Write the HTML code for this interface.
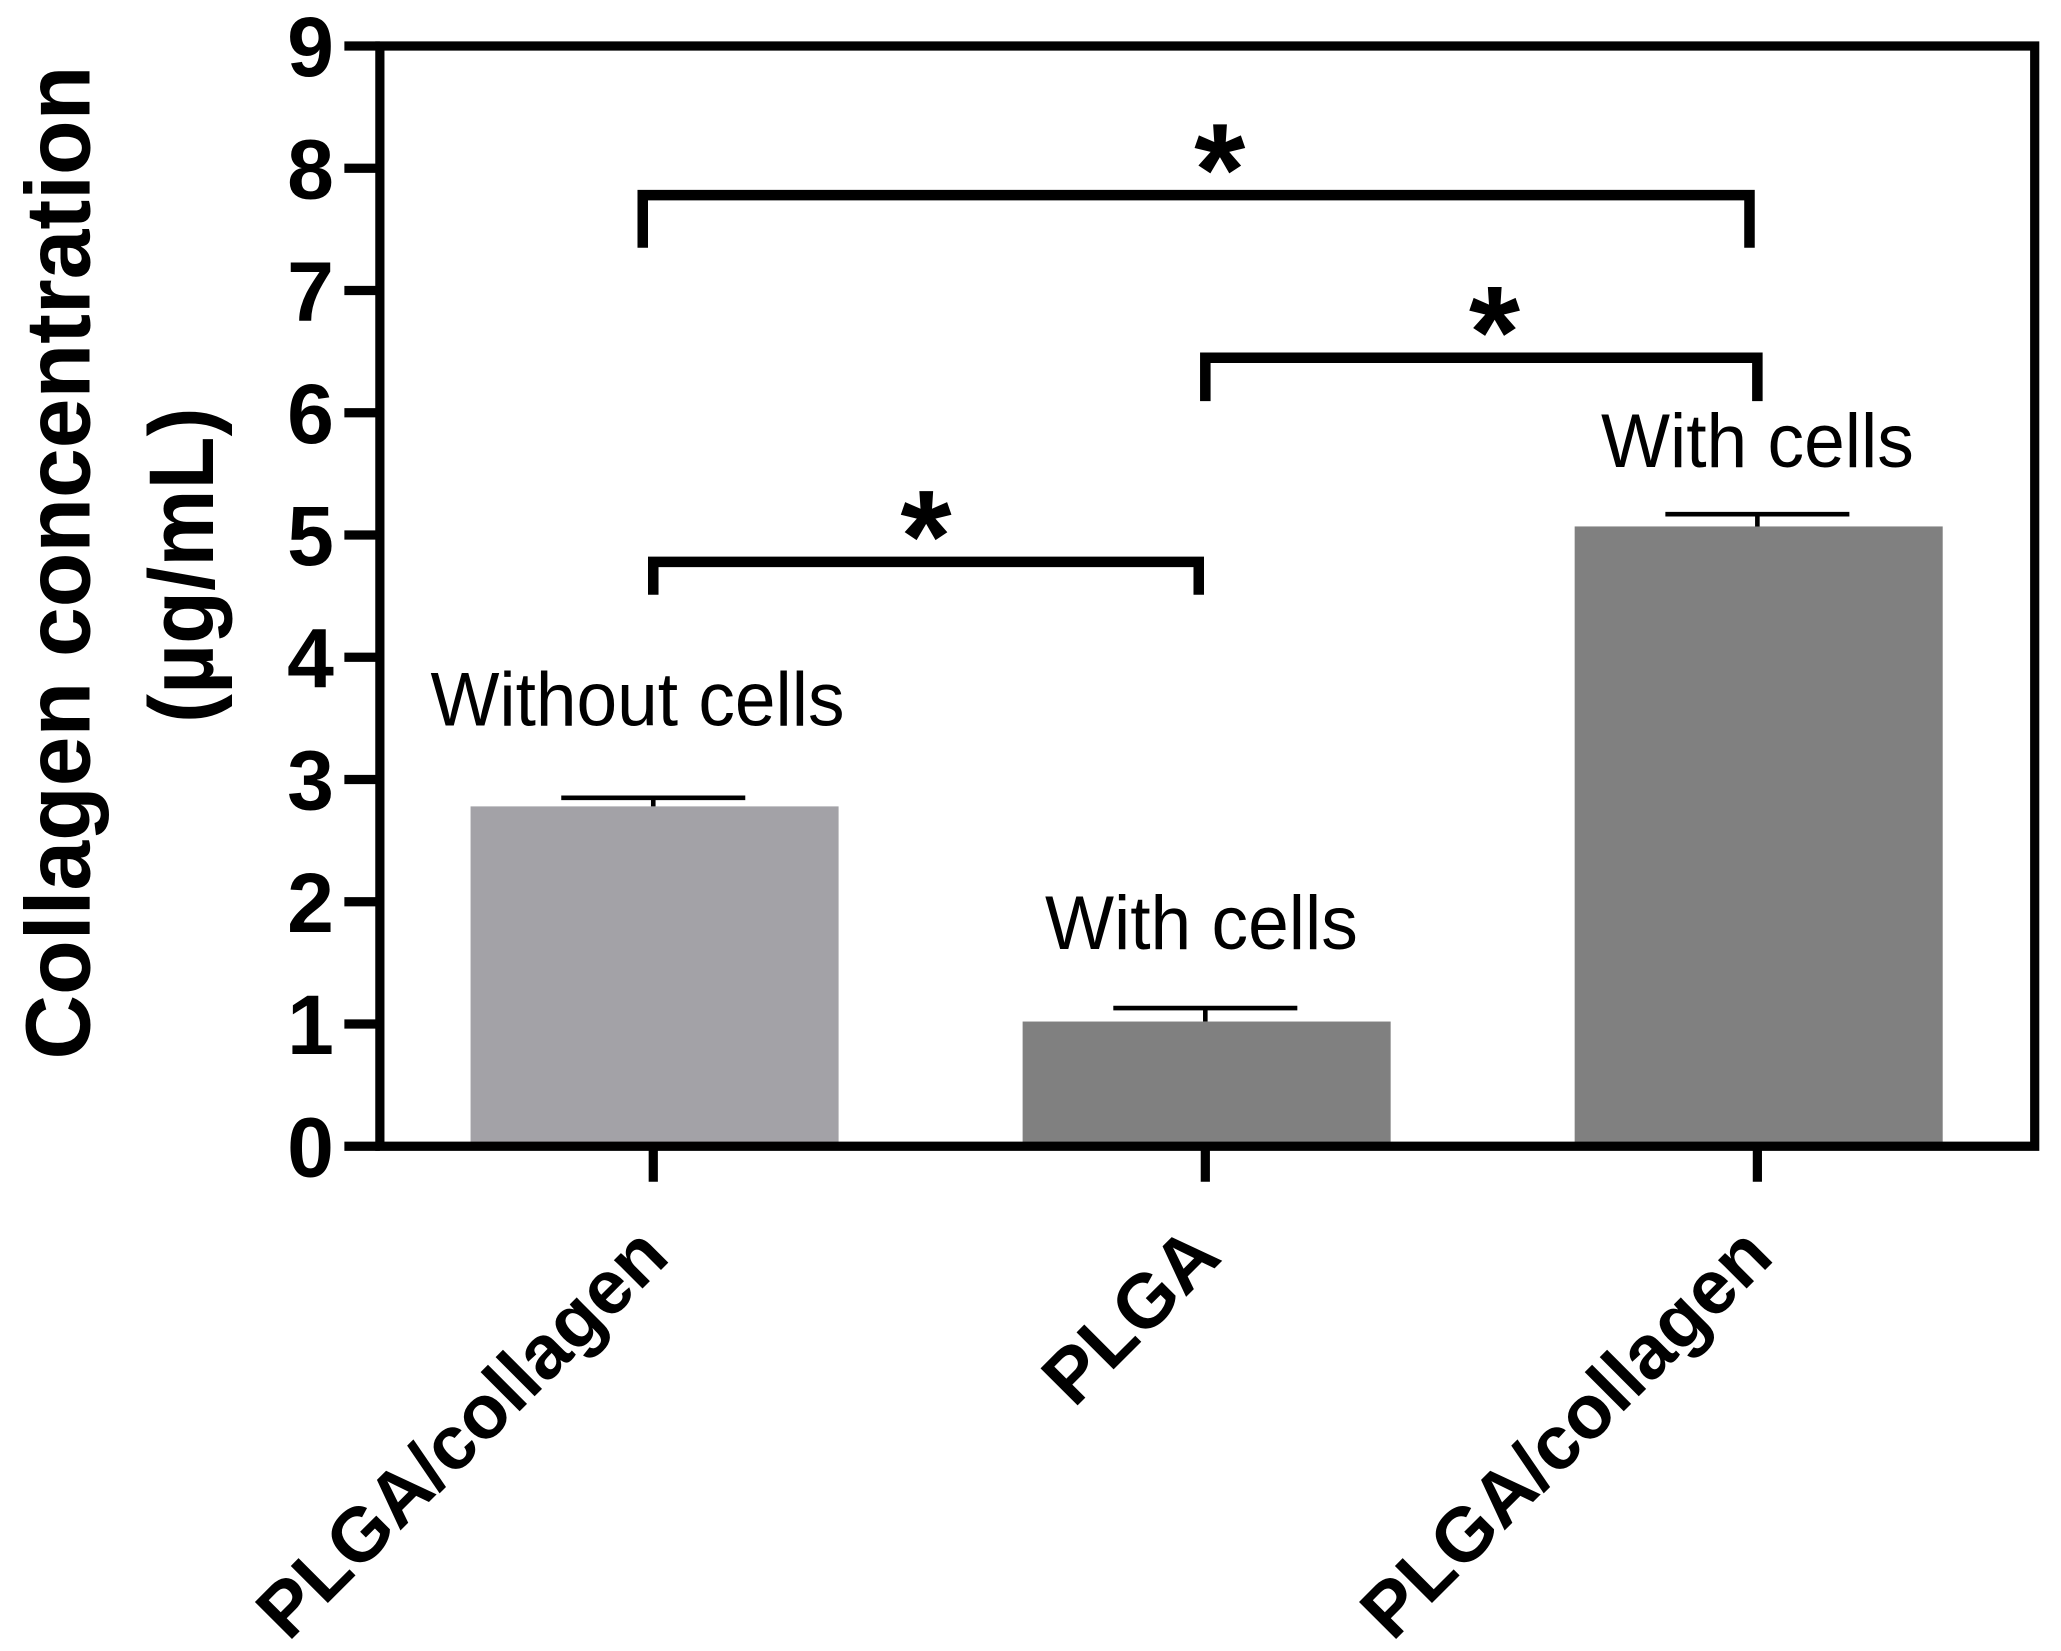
<!DOCTYPE html>
<html><head><meta charset="utf-8"><style>
html,body{margin:0;padding:0;background:#fff;}
svg{display:block;}
text{font-family:"Liberation Sans",Arial,sans-serif;}
</style></head><body>
<svg id="chart" width="2061" height="1651" viewBox="0 0 1568 1256" preserveAspectRatio="none" xmlns="http://www.w3.org/2000/svg">
<g id="g"></g>
</svg>
<script>
const categories = ["PLGA/collagen", "PLGA", "PLGA/collagen"];
const conditions = ["Without cells", "With cells", "With cells"];
const values = [2.78, 1.02, 5.07];
const errors = [0.07, 0.11, 0.10];
const yTicks = [0,1,2,3,4,5,6,7,8,9];
const sigPairs = [[0,1],[1,2],[0,2]];
const sigHeights = [4.78, 6.45, 7.78];

const NS = "http://www.w3.org/2000/svg";
const g = document.getElementById('g');
const X0 = 289, X1 = 1548, Y0 = 872, YT = 35, YMAX = 9;
function y(v){ return Y0 - (Y0 - YT) * v / YMAX; }
function xc(i){ return 497 + i * 420; }
const BW = 280;
function mk(tag, attrs, parent){
  const e = document.createElementNS(NS, tag);
  for (const k in attrs) e.setAttribute(k, attrs[k]);
  (parent || g).appendChild(e);
  return e;
}
const colors = ["#a3a2a7", "#808080", "#808080"];
const labelStyle = [{dx:-12, gap:55, len:315}, {dx:-3, gap:45, len:238}, {dx:0, gap:36, len:238}];
const starDx = [0, 10, 18];

values.forEach((v, i) => {
  const r = mk('rect', {x: xc(i) - BW/2 + 1, y: y(v), width: BW, height: Y0 - y(v), fill: colors[i]});
  
  
  const top = y(v + errors[i]);
  const eb = mk('path', {d: `M${xc(i)} ${y(v)} V${top} M${xc(i)-70} ${top} H${xc(i)+70}`, stroke: '#000', 'stroke-width': 3.5, fill: 'none'});
  
  
  const ls = labelStyle[i];
  const lbl = mk('text', {x: xc(i) + ls.dx, y: top - ls.gap, 'text-anchor': 'middle', 'font-size': 58, fill: '#000', textLength: ls.len, lengthAdjust: 'spacingAndGlyphs'});
  lbl.textContent = conditions[i];
  
  
});

const fr = mk('path', {d: `M${X0} ${YT} H${X1} V${Y0} H${X0} Z`, stroke: '#000', 'stroke-width': 7, fill: 'none'});



yTicks.forEach(t => {
  const tk = mk('line', {x1: 262, x2: X0, y1: y(t), y2: y(t), stroke: '#000', 'stroke-width': 7});
  
  
  const tl = mk('text', {x: 254, y: y(t) + 23, 'text-anchor': 'end', 'font-size': 64, 'font-weight': 'bold'});
  tl.textContent = t;
  
  
});

categories.forEach((c, i) => {
  const tk = mk('line', {x1: xc(i), x2: xc(i), y1: Y0, y2: 899, stroke: '#000', 'stroke-width': 7});
  
  
  const ex = xc(i) + 14, ey = 958;
  const tl = mk('text', {x: ex, y: ey, 'text-anchor': 'end', 'font-size': 58, 'font-weight': 'bold', transform: `rotate(-45 ${ex} ${ey})`});
  tl.textContent = c;
  
  
});

sigPairs.forEach((p, k) => {
  const yy = y(sigHeights[k]);
  const a = xc(p[0]) - (k === 2 ? 8 : 0) , b = xc(p[1]) - (k === 0 ? 5 : 0) - (k === 2 ? 6 : 0);
  const drop = k === 2 ? 40 : (k === 1 ? 33 : 25);
  const br = mk('path', {d: `M${a} ${yy + drop} V${yy} H${b} V${yy + drop}`, stroke: '#000', 'stroke-width': 8, fill: 'none'});
  
  
  const st = mk('text', {x: (a + b) / 2 + starDx[k], y: yy + 15, 'text-anchor': 'middle', 'font-size': 100, 'font-weight': 'bold'});
  st.textContent = '*';
  
  
});

const t1 = mk('text', {x: 0, y: 0, 'text-anchor': 'middle', 'font-size': 70, 'font-weight': 'bold', textLength: 756, lengthAdjust: 'spacingAndGlyphs', transform: 'translate(68 428) rotate(-90)'});
t1.textContent = 'Collagen concentration';


const t2 = mk('text', {x: 0, y: 0, 'text-anchor': 'middle', 'font-size': 70, 'font-weight': 'bold', textLength: 240, lengthAdjust: 'spacingAndGlyphs', transform: 'translate(162 430) rotate(-90)'});
t2.textContent = '(µg/mL)';


</script>
</body></html>
